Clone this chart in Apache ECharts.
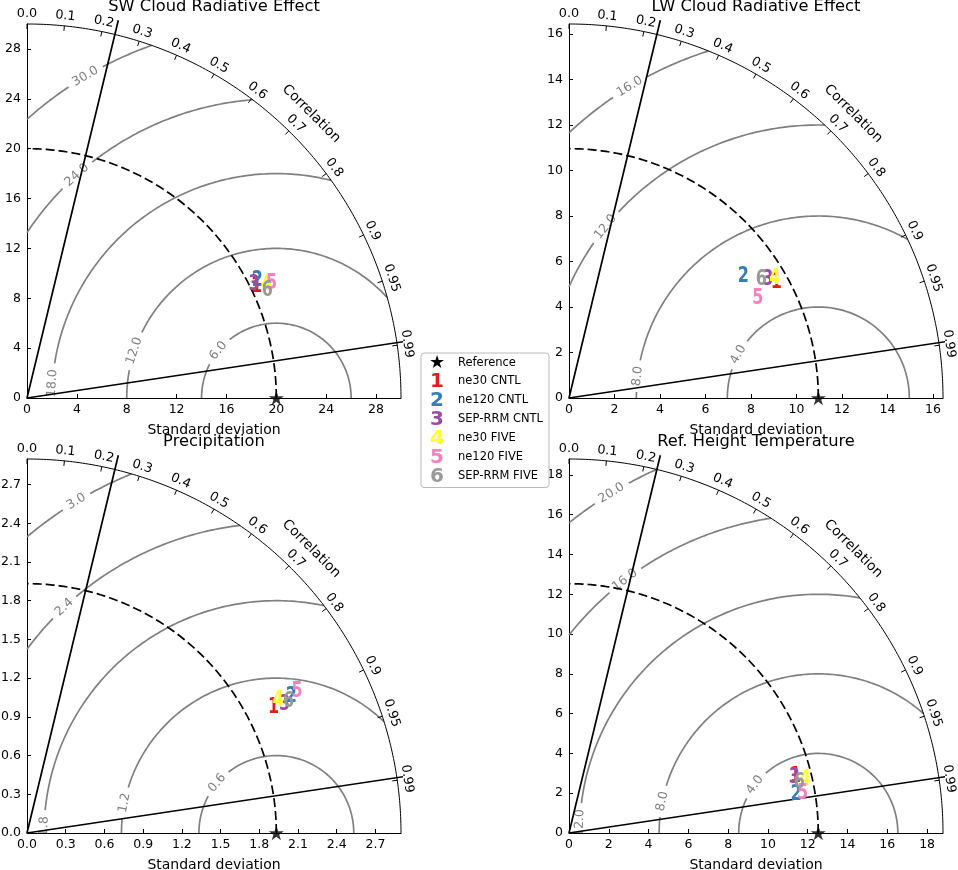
<!DOCTYPE html>
<html><head><meta charset="utf-8">
<script src="https://cdn.jsdelivr.net/npm/echarts@6/dist/echarts.min.js"></script>
<style>html,body{margin:0;padding:0;background:#fff}#c{width:958px;height:870px}</style>
</head><body><div id="c"></div>
<script>
// ---------------- data ----------------
const panelTitles = ['SW Cloud Radiative Effect', 'LW Cloud Radiative Effect', 'Precipitation', 'Ref. Height Temperature'];
const modelNames = ['ne30 CNTL', 'ne120 CNTL', 'SEP-RRM CNTL', 'ne30 FIVE', 'ne120 FIVE', 'SEP-RRM FIVE'];
const modelLabels = ['1', '2', '3', '4', '5', '6'];
const modelColors = ['#e41a1c', '#377eb8', '#984ea3', '#ffff33', '#f781bf', '#999999'];
const refStd = [20.0, 10.96, 1.932, 12.53];
const stdMax = [30.0, 16.44, 2.898, 18.8];
// model standard deviations and correlations per panel
const swStd = [20.47, 20.74, 20.38, 21.27, 21.66, 21.11];
const swCorr = [0.900, 0.891, 0.894, 0.903, 0.906, 0.913];
const lwStd = [10.44, 9.34, 10.18, 10.47, 9.39, 9.93];
const lwCorr = [0.873, 0.820, 0.859, 0.864, 0.884, 0.851];
const prStd = [2.144, 2.307, 2.232, 2.198, 2.364, 2.267];
const prCorr = [0.891, 0.888, 0.894, 0.885, 0.885, 0.894];
const tsStd = [11.73, 11.57, 11.67, 12.18, 11.91, 11.85];
const tsCorr = [0.970, 0.986, 0.971, 0.975, 0.986, 0.977];
// axis ticks
const swTicks = [0, 4, 8, 12, 16, 20, 24, 28];
const lwTicks = [0, 2, 4, 6, 8, 10, 12, 14, 16];
const prTicks = [0, 0.3, 0.6, 0.9, 1.2, 1.5, 1.8, 2.1, 2.4, 2.7];
const tsTicks = [0, 2, 4, 6, 8, 10, 12, 14, 16, 18];
const tickDecimals = [0, 0, 1, 0];
// centred RMS difference contour levels
const swLevels = [6, 12, 18, 24, 30];
const lwLevels = [4, 8, 12, 16];
const prLevels = [0.6, 1.2, 1.8, 2.4, 3.0];
const tsLevels = [4, 8, 12, 16, 20];
// correlation ticks
const corrTicks = [0, 0.1, 0.2, 0.3, 0.4, 0.5, 0.6, 0.7, 0.8, 0.9, 0.95, 0.99];
const corrTickLabels = ['0.0', '0.1', '0.2', '0.3', '0.4', '0.5', '0.6', '0.7', '0.8', '0.9', '0.95', '0.99'];
const corrLines = [0.235, 0.989];

// ---------------- layout (not data) ----------------
const SIZE = 374;
const gridLeft = [27, 569, 27, 569];
const gridTop = [24, 24, 459, 459];
const labelAngles = [
  [140.8, 161.6, 176.2, 131.8, 120.7],
  [151.5, 173.1, 141.2, 121.2],
  [139.8, 168.8, 178.3, 133.2, 121.1],
  [142.7, 168.5, 177.6, 127.4, 121.3]
];
const FONT = 'DejaVu Sans';

const panels = [
  {std: swStd, corr: swCorr, ticks: swTicks, levels: swLevels},
  {std: lwStd, corr: lwCorr, ticks: lwTicks, levels: lwLevels},
  {std: prStd, corr: prCorr, ticks: prTicks, levels: prLevels},
  {std: tsStd, corr: tsCorr, ticks: tsTicks, levels: tsLevels}
];

function starPath() {
  let d = '';
  for (let i = 0; i < 10; i++) {
    const a = Math.PI / 2 + i * Math.PI / 5;
    const r = i % 2 ? 0.381966 : 1;
    const x = (r * Math.cos(a)).toFixed(4), y = (-r * Math.sin(a)).toFixed(4);
    d += (i ? 'L' : 'M') + x + ' ' + y + ' ';
  }
  return 'path://' + d + 'Z';
}
const STAR = starPath();

function arcPts(cx, R, a0, a1, n) {
  const pts = [];
  for (let i = 0; i <= n; i++) {
    const a = (a0 + (a1 - a0) * i / n) * Math.PI / 180;
    pts.push([cx + R * Math.cos(a), R * Math.sin(a)]);
  }
  return pts;
}
const clamp = (v) => Math.max(-1, Math.min(1, v));
const deg = (r) => r * 180 / Math.PI;

function textSeries(g, items, clip, z) {
  return {
    type: 'custom', coordinateSystem: 'cartesian2d', xAxisIndex: g, yAxisIndex: g,
    clip: clip, z: z, silent: true,
    data: items.map(it => [it.x, it.y]),
    renderItem: (params, api) => {
      const it = items[params.dataIndex];
      const p = api.coord([api.value(0), api.value(1)]);
      return {
        type: 'text', x: p[0], y: p[1], rotation: (it.rot || 0) * Math.PI / 180,
        style: {text: it.text, fill: it.color, fontSize: it.size, fontFamily: it.family || FONT,
          fontWeight: it.weight || 'normal', align: 'center', verticalAlign: 'middle'}
      };
    }
  };
}

const grids = [], xAxes = [], yAxes = [], titles = [], series = [];

panels.forEach((P, g) => {
  const ref = refStd[g], smax = stdMax[g], upp = smax / SIZE, dec = tickDecimals[g];
  grids.push({left: gridLeft[g], top: gridTop[g], width: SIZE, height: SIZE, containLabel: false, outerBoundsMode: 'none'});
  const axisCommon = {
    gridIndex: g, type: 'value', min: 0, max: smax,
    axisLine: {show: true, onZero: false, lineStyle: {color: '#000', width: 1}},
    axisTick: {show: true, inside: true, length: 4, customValues: P.ticks, lineStyle: {color: '#000', width: 1}},
    axisLabel: {show: true, customValues: P.ticks, formatter: v => Number(v).toFixed(dec), color: '#000', fontSize: 12.5, fontFamily: FONT, margin: 5},
    splitLine: {show: false}, minorTick: {show: false}
  };
  xAxes.push(Object.assign({}, axisCommon, {
    name: 'Standard deviation', nameLocation: 'middle', nameGap: 25,
    nameTextStyle: {color: '#000', fontSize: 14, fontFamily: FONT}
  }));
  yAxes.push(Object.assign({}, axisCommon, {axisLabel: Object.assign({}, axisCommon.axisLabel, {margin: 6})}));
  titles.push({
    text: panelTitles[g], left: gridLeft[g] + SIZE / 2, top: gridTop[g] - 25, textAlign: 'center', padding: 0,
    textStyle: {fontSize: 16.3, fontWeight: 'normal', fontFamily: FONT, color: '#000'}
  });

  const lineBase = {type: 'line', xAxisIndex: g, yAxisIndex: g, symbol: 'none', showSymbol: false, silent: true, animation: false};

  // RMS contours (gray), with gaps for their labels
  const rmsLabels = [];
  P.levels.forEach((R, k) => {
    const thOut = deg(Math.acos(clamp((smax * smax - ref * ref - R * R) / (2 * ref * R))));
    const thY = deg(Math.acos(clamp(-ref / R)));
    const txt = R.toFixed(1);
    const digits = txt.replace('.', '').length;
    const tw = 12.5 * (0.636 * digits + 0.318);
    const gap = deg((tw / 2 + 6) / (R / upp));
    const thL = labelAngles[g][k];
    const segs = [[thOut, thL - gap], [thL + gap, thY]];
    segs.forEach(s => {
      if (s[1] - s[0] > 0.05) {
        series.push(Object.assign({}, lineBase, {
          z: 2, data: arcPts(ref, R, s[0], s[1], 120),
          lineStyle: {color: '#808080', width: 1.7}
        }));
      }
    });
    const a = thL * Math.PI / 180;
    rmsLabels.push({x: ref + R * Math.cos(a), y: R * Math.sin(a), rot: thL - 90, text: txt, color: '#808080', size: 12.5});
  });
  series.push(textSeries(g, rmsLabels, true, 2));

  // outer arc
  series.push(Object.assign({}, lineBase, {z: 3, clip: false, data: arcPts(0, smax, 0, 90, 180), lineStyle: {color: '#000', width: 1}}));
  // reference std arc (dashed)
  series.push(Object.assign({}, lineBase, {z: 4, clip: false, data: arcPts(0, ref, 0, 90, 180), lineStyle: {color: '#000', width: 1.7, type: [9, 4]}}));
  // black correlation lines
  const lens = [1.039, 1.019];
  const cl = corrLines.map((c, i) => [lens[i] * smax * c, lens[i] * smax * Math.sqrt(1 - c * c)]);
  series.push(Object.assign({}, lineBase, {z: 5, clip: false, data: [cl[0], [0, 0], cl[1]], lineStyle: {color: '#000', width: 1.7}}));

  // correlation tick marks
  series.push({
    type: 'custom', coordinateSystem: 'cartesian2d', xAxisIndex: g, yAxisIndex: g, clip: false, z: 3, silent: true,
    data: corrTicks.map(c => [smax * c, smax * Math.sqrt(1 - c * c)]),
    renderItem: (params, api) => {
      const c = corrTicks[params.dataIndex];
      const s = Math.sqrt(1 - c * c);
      const p1 = api.coord([smax * c, smax * s]);
      const r2 = smax - 5 * upp;
      const p2 = api.coord([r2 * c, r2 * s]);
      return {type: 'line', shape: {x1: p1[0], y1: p1[1], x2: p2[0], y2: p2[1]}, style: {stroke: '#000', lineWidth: 1}};
    }
  });
  // correlation labels
  const cLabels = corrTicks.map((c, i) => {
    const r = smax + 10 * upp, s = Math.sqrt(1 - c * c);
    return {x: r * c, y: r * s, rot: deg(Math.acos(c)) - 90, text: corrTickLabels[i], color: '#000', size: 12.8};
  });
  const rc = smax + 28 * upp;
  cLabels.push({x: rc * Math.SQRT1_2, y: rc * Math.SQRT1_2, rot: -45, text: 'Correlation', color: '#000', size: 13.8});
  series.push(textSeries(g, cLabels, false, 3));

  // reference point
  series.push({
    type: 'scatter', name: 'Reference', xAxisIndex: g, yAxisIndex: g, z: 7, clip: false, silent: true,
    symbol: STAR, symbolKeepAspect: true, symbolSize: 15, itemStyle: {color: '#000'},
    data: [[ref, 0]]
  });
  // models
  modelNames.forEach((nm, m) => {
    const s = P.std[m], c = P.corr[m];
    series.push({
      type: 'custom', name: nm, coordinateSystem: 'cartesian2d', xAxisIndex: g, yAxisIndex: g, z: 8 + m, silent: true,
      itemStyle: {color: modelColors[m]},
      data: [[s * c, s * Math.sqrt(1 - c * c)]],
      renderItem: (params, api) => {
        const p = api.coord([api.value(0), api.value(1)]);
        return {type: 'text', x: p[0], y: p[1], scaleX: 0.82, scaleY: 1.1, style: {text: modelLabels[m], fill: modelColors[m], fontSize: 19.5,
          fontWeight: 'bold', fontFamily: FONT, align: 'center', verticalAlign: 'middle'}};
      }
    });
  });
});

const rich = {
  s: {width: 20, align: 'center', fontSize: 18, color: '#000', lineHeight: 18, fontFamily: FONT},
  t: {fontSize: 11.5, color: '#000', lineHeight: 18, padding: [0, 0, 0, 11], fontFamily: FONT}
};
modelNames.forEach((nm, m) => {
  rich['n' + m] = {width: 20, align: 'center', fontSize: 20, fontWeight: 'bold', color: modelColors[m], lineHeight: 18, fontFamily: FONT};
});

const chart = echarts.init(document.getElementById('c'), null, {renderer: 'canvas'});
chart.setOption({
  animation: false,
  backgroundColor: '#fff',
  title: titles,
  grid: grids,
  xAxis: xAxes,
  yAxis: yAxes,
  legend: {
    orient: 'vertical', left: 421, top: 353, padding: [1.5, 6, 1, 1], itemGap: -1,
    itemWidth: 0, itemHeight: 18, icon: 'none', selectedMode: false,
    backgroundColor: '#fff', borderColor: '#bbbbbb', borderWidth: 1, borderRadius: 3,
    data: ['Reference'].concat(modelNames),
    formatter: name => {
      if (name === 'Reference') return '{s|★}{t|Reference}';
      const m = modelNames.indexOf(name);
      return '{n' + m + '|' + modelLabels[m] + '}{t|' + name + '}';
    },
    textStyle: {fontSize: 11.5, fontFamily: FONT, color: '#000', rich: rich}
  },
  series: series
});
</script></body></html>
